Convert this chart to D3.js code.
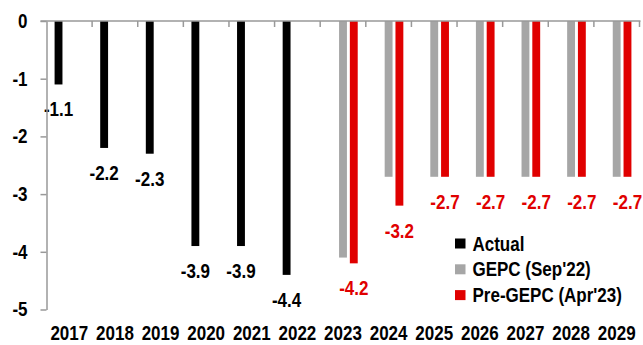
<!DOCTYPE html>
<html>
<head>
<meta charset="utf-8">
<script src="https://cdn.jsdelivr.net/npm/d3@7"></script>
<style>
  html, body { margin: 0; padding: 0; background: #fff; }
  svg { display: block; }
  text { font-family: "Liberation Sans", Arial, sans-serif; font-weight: bold; }
</style>
</head>
<body>
<script>
// Fiscal balance, % of GDP
const years = ["2017","2018","2019","2020","2021","2022","2023","2024","2025","2026","2027","2028","2029"];
const actual = [-1.1, -2.2, -2.3, -3.9, -3.9, -4.4, null, null, null, null, null, null, null];
const gepc = [null, null, null, null, null, null, -4.1, -2.7, -2.7, -2.7, -2.7, -2.7, -2.7];
const preGepc = [null, null, null, null, null, null, -4.2, -3.2, -2.7, -2.7, -2.7, -2.7, -2.7];
const yTicks = [0, -1, -2, -3, -4, -5];

const seriesList = [
  { key: "actual", name: "Actual", values: actual, color: "#000000", labelled: true },
  { key: "gepc", name: "GEPC (Sep'22)", values: gepc, color: "#a6a6a6", labelled: false },
  { key: "pre", name: "Pre-GEPC (Apr'23)", values: preGepc, color: "#e00000", labelled: true }
];

const W = 643, H = 345;
const axisColor = "#999999";
const fontSize = 20;
const narrow = 0.85; // horizontal squeeze for a condensed look

// squeeze a text horizontally while keeping its anchor point in place
function condense(sel) {
  sel.each(function () {
    const t = d3.select(this);
    const x0 = +(t.attr("x") || 0);
    t.attr("x", x0 / narrow).attr("transform", `scale(${narrow},1)`);
  });
}

const svg = d3.select("body").append("svg").attr("width", W).attr("height", H);

const x = d3.scaleBand().domain(years).range([46.5, 639.5]).padding(0);
const xs = d3.scaleBand().domain(seriesList.map(s => s.key))
  .range([0, x.bandwidth()]).paddingInner(0.27).paddingOuter(0.75);
const y = d3.scaleLinear().domain([-5, 0]).range([309.5, 21]);

// bars
seriesList.forEach(s => {
  const data = years.map((yr, i) => ({ yr, v: s.values[i] })).filter(d => d.v !== null);
  svg.append("g").selectAll("rect").data(data).join("rect")
    .attr("x", d => x(d.yr) + xs(s.key))
    .attr("width", xs.bandwidth())
    .attr("y", y(0))
    .attr("height", d => y(d.v) - y(0))
    .attr("fill", s.color);

  if (s.labelled) {
    svg.append("g").selectAll("text").data(data).join("text")
      .attr("x", d => x(d.yr) + xs(s.key) + xs.bandwidth() / 2)
      .attr("y", d => y(d.v) + 25)
      .attr("dy", "0.35em")
      .attr("text-anchor", "middle")
      .attr("font-size", fontSize)
      .attr("fill", s.color)
      .text(d => d3.format(".1f")(d.v).replace("\u2212", "-"))
      .call(condense);
  }
});

// value axis
const yAxis = svg.append("g")
  .attr("transform", `translate(${x.range()[0]},0)`)
  .call(d3.axisLeft(y).tickValues(yTicks).tickSizeInner(6).tickSizeOuter(0).tickPadding(13)
    .tickFormat(d => String(d)));
yAxis.select(".domain").attr("stroke", axisColor).attr("stroke-width", 1.5);
yAxis.selectAll(".tick line").attr("stroke", axisColor).attr("stroke-width", 1.5);
yAxis.selectAll(".tick text").attr("fill", "#000").attr("font-size", fontSize)
  .attr("font-family", null).attr("font-weight", "bold").call(condense);

// category axis line at zero with boundary ticks
const zeroG = svg.append("g");
zeroG.append("line")
  .attr("x1", x.range()[0] - 6).attr("x2", x.range()[1] + 1)
  .attr("y1", y(0)).attr("y2", y(0))
  .attr("stroke", axisColor).attr("stroke-width", 1.5);
const bounds = years.map(d => x(d) + x.bandwidth());
zeroG.selectAll("line.tk").data(bounds).join("line").attr("class", "tk")
  .attr("x1", d => d).attr("x2", d => d)
  .attr("y1", y(0)).attr("y2", y(0) + 6)
  .attr("stroke", axisColor).attr("stroke-width", 1.5);

// category labels along the bottom
const xAxis = svg.append("g")
  .attr("transform", "translate(0,340)")
  .call(d3.axisBottom(x).tickSize(0).tickPadding(0));
xAxis.select(".domain").remove();
xAxis.selectAll(".tick text").attr("y", 0).attr("dy", 0)
  .attr("fill", "#000").attr("font-size", fontSize)
  .attr("font-family", null).attr("font-weight", "bold").call(condense);

// legend
const legend = svg.append("g").attr("transform", "translate(455,243.5)");
seriesList.forEach((s, i) => {
  const row = legend.append("g").attr("transform", `translate(0,${i * 25.8})`);
  row.append("rect").attr("x", 0).attr("y", -5).attr("width", 10.5).attr("height", 10).attr("fill", s.color);
  row.append("text").attr("x", 17.5).attr("y", 0).attr("dy", "0.35em")
    .attr("font-size", fontSize).attr("fill", "#000").text(s.name).call(condense);
});
</script>
</body>
</html>
